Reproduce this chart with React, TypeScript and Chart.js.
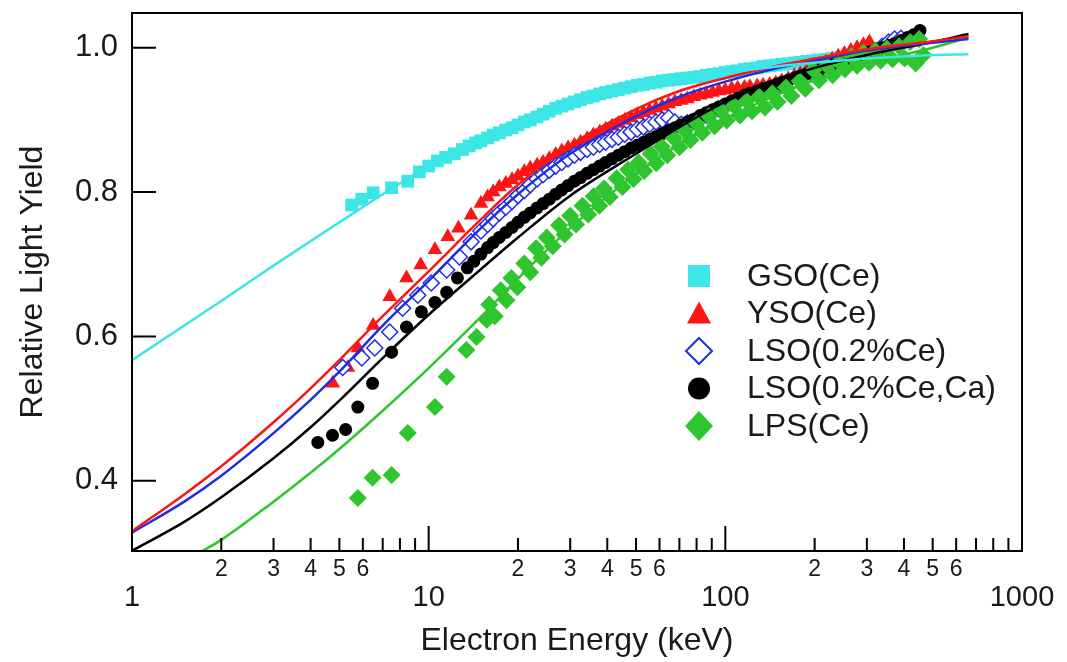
import React, { useEffect, useRef } from 'react';
import { Chart, registerables } from 'chart.js';

Chart.register(...registerables);

// ---------- data ----------
const gsoE = [5.5, 5.95, 6.5, 7.5, 8.5, 9.3, 10, 10.7, 11.4, 12.2, 13, 13.7, 14.4, 15, 15.8, 16.5, 17.3, 18.2, 19.1, 20, 21, 22, 23.2, 24.3, 25.5, 26.8, 28.1, 29.5, 31, 32.5, 34.2, 35.9, 37.7, 39.5, 41.5, 43.6, 45.8, 48.1, 50.5, 53, 55.6, 58.4, 61.3, 64.4, 67.6, 71, 74.5, 78.3, 82.2, 86.3, 90.6, 95.1, 99.9, 105, 110, 116, 121, 128, 134, 141, 148, 155, 163, 171, 179, 188, 198, 207, 218, 229, 240, 252, 265, 278, 292, 306];
const gsoY = [0.782, 0.79, 0.799, 0.806, 0.815, 0.828, 0.836, 0.843, 0.848, 0.853, 0.859, 0.864, 0.868, 0.871, 0.875, 0.879, 0.882, 0.886, 0.889, 0.893, 0.897, 0.9, 0.904, 0.908, 0.912, 0.916, 0.919, 0.922, 0.925, 0.928, 0.931, 0.933, 0.936, 0.938, 0.94, 0.942, 0.944, 0.946, 0.948, 0.949, 0.951, 0.952, 0.954, 0.955, 0.956, 0.957, 0.958, 0.959, 0.96, 0.962, 0.963, 0.964, 0.966, 0.967, 0.968, 0.97, 0.971, 0.972, 0.974, 0.975, 0.976, 0.977, 0.978, 0.979, 0.98, 0.981, 0.982, 0.983, 0.984, 0.985, 0.986, 0.987, 0.988, 0.989, 0.99, 0.99];

const ysoE = [4.75, 5.34, 5.77, 6.5, 7.39, 8.42, 9.4, 10.5, 11.6, 12.6, 13.9, 15, 15.8, 16.5, 17.3, 18.2, 19.1, 20, 21, 22, 23.2, 24.3, 25.5, 26.8, 28.1, 29.5, 31, 32.5, 34.2, 35.9, 37.7, 39.5, 41.5, 43.6, 45.8, 48.1, 50.5, 53, 55.6, 58.4, 61.3, 64.4, 67.6, 71, 74.5, 78.3, 82.2, 86.3, 90.6, 95.1, 99.9, 105, 110, 116, 121, 128, 134, 141, 148, 155, 163, 171, 179, 188, 198, 207, 218, 229, 240, 252, 265, 278, 292, 306];
const ysoY = [0.535, 0.557, 0.584, 0.615, 0.655, 0.681, 0.699, 0.72, 0.738, 0.75, 0.768, 0.784, 0.793, 0.8, 0.807, 0.812, 0.817, 0.822, 0.828, 0.833, 0.837, 0.841, 0.846, 0.852, 0.857, 0.861, 0.865, 0.869, 0.874, 0.879, 0.883, 0.887, 0.891, 0.895, 0.899, 0.903, 0.907, 0.91, 0.913, 0.916, 0.919, 0.922, 0.925, 0.927, 0.929, 0.932, 0.934, 0.936, 0.938, 0.94, 0.941, 0.943, 0.944, 0.945, 0.946, 0.947, 0.948, 0.949, 0.951, 0.954, 0.957, 0.961, 0.964, 0.968, 0.972, 0.976, 0.98, 0.984, 0.988, 0.992, 0.996, 1.0, 1.004, 1.008];

const lsoE = [5.13, 5.95, 6.58, 7.39, 8.17, 9.19, 10.2, 11.5, 12.7, 13.9, 15, 15.8, 16.5, 17.3, 18.2, 19.1, 20, 21, 22, 23.2, 24.3, 25.5, 26.8, 28.1, 29.5, 31, 32.5, 34.2, 35.9, 37.7, 39.5, 41.5, 43.6, 45.8, 48.1, 50.5, 53, 55.6, 58.4, 61.3, 64.4, 67.6, 71, 74.5, 78.3, 82.2, 86.3, 90.6, 95.1, 99.9, 105, 110, 116, 121, 128, 134, 141, 148, 155, 163, 171, 179, 188, 198, 207, 218, 229, 240, 252, 265, 278, 292, 306, 322, 338, 355, 372, 391];
const lsoY = [0.557, 0.57, 0.584, 0.606, 0.639, 0.657, 0.674, 0.692, 0.71, 0.731, 0.746, 0.755, 0.763, 0.771, 0.779, 0.787, 0.795, 0.802, 0.81, 0.818, 0.824, 0.83, 0.836, 0.841, 0.846, 0.851, 0.855, 0.859, 0.862, 0.866, 0.869, 0.873, 0.876, 0.88, 0.883, 0.887, 0.89, 0.894, 0.897, 0.9, 0.903, 0.897, 0.894, 0.896, 0.898, 0.903, 0.907, 0.911, 0.915, 0.919, 0.923, 0.927, 0.931, 0.934, 0.937, 0.94, 0.943, 0.946, 0.949, 0.952, 0.955, 0.958, 0.961, 0.964, 0.967, 0.97, 0.973, 0.976, 0.979, 0.982, 0.985, 0.988, 0.991, 0.996, 1.002, 1.008, 1.012, 1.013];

const caE = [4.23, 4.74, 5.25, 5.77, 6.47, 7.5, 8.42, 9.45, 10.5, 11.5, 12.5, 13.5, 14.2, 15, 15.8, 16.5, 17.3, 18.2, 19.1, 20, 21, 22, 23.2, 24.3, 25.5, 26.8, 28.1, 29.5, 31, 32.5, 34.2, 35.9, 37.7, 39.5, 41.5, 43.6, 45.8, 48.1, 50.5, 53, 55.6, 58.4, 61.3, 64.4, 67.6, 71, 74.5, 78.3, 82.2, 86.3, 90.6, 95.1, 99.9, 105, 110, 116, 121, 128, 134, 141, 148, 155, 163, 171, 179, 188, 198, 207, 218, 229, 240, 252, 265, 278, 292, 306, 322, 338, 355, 372, 391, 411, 431, 453];
const caY = [0.453, 0.463, 0.471, 0.502, 0.535, 0.578, 0.613, 0.634, 0.647, 0.661, 0.681, 0.695, 0.704, 0.714, 0.723, 0.73, 0.737, 0.744, 0.751, 0.758, 0.765, 0.771, 0.778, 0.784, 0.79, 0.797, 0.803, 0.809, 0.815, 0.82, 0.826, 0.831, 0.836, 0.841, 0.846, 0.851, 0.856, 0.861, 0.865, 0.869, 0.873, 0.877, 0.881, 0.885, 0.889, 0.893, 0.897, 0.901, 0.906, 0.91, 0.914, 0.918, 0.922, 0.926, 0.93, 0.934, 0.937, 0.94, 0.943, 0.946, 0.949, 0.952, 0.955, 0.958, 0.961, 0.964, 0.967, 0.97, 0.973, 0.976, 0.979, 0.982, 0.985, 0.988, 0.991, 0.994, 0.997, 1.0, 1.003, 1.006, 1.01, 1.014, 1.018, 1.024];

const lpsE = [5.77, 6.47, 7.5, 8.5, 10.5, 11.5, 13.4, 14.5, 15.7, 16, 16.7, 17.5, 18.3, 19, 19.9, 21, 22, 23, 24, 25, 26.2, 27.5, 28.7, 30, 31.4, 33, 34.5, 36, 37.6, 39, 40.8, 43, 45, 47, 49, 51, 53.3, 56, 58.5, 61, 63.7, 67, 70, 73, 76.3, 80, 83.6, 88, 92, 97, 101, 107, 112, 118, 123, 130, 136, 144, 150, 160, 167, 178, 186, 198, 207, 220, 230, 242, 253, 266, 278, 292, 305, 320, 334, 350, 366, 385, 402, 420, 438, 450, 465];
const lpsY = [0.376, 0.404, 0.408, 0.466, 0.502, 0.544, 0.581, 0.599, 0.623, 0.644, 0.628, 0.664, 0.65, 0.681, 0.668, 0.701, 0.689, 0.722, 0.709, 0.737, 0.725, 0.754, 0.741, 0.767, 0.755, 0.781, 0.769, 0.794, 0.781, 0.805, 0.793, 0.819, 0.807, 0.831, 0.818, 0.841, 0.829, 0.853, 0.84, 0.863, 0.851, 0.875, 0.862, 0.885, 0.872, 0.895, 0.882, 0.905, 0.891, 0.913, 0.899, 0.92, 0.906, 0.926, 0.912, 0.932, 0.917, 0.937, 0.925, 0.945, 0.933, 0.954, 0.943, 0.969, 0.955, 0.975, 0.962, 0.98, 0.97, 0.988, 0.975, 0.993, 0.979, 0.996, 0.982, 0.999, 0.984, 1.002, 0.985, 1.008, 0.978, 1.012, 0.99];

const fitE = [1, 1.5, 2, 3, 4, 5, 7, 10, 15, 20, 30, 50, 70, 100, 150, 200, 300, 500, 660];
const gsoFit = [0.567, 0.615, 0.649, 0.698, 0.732, 0.758, 0.797, 0.836, 0.873, 0.895, 0.92, 0.943, 0.955, 0.965, 0.974, 0.979, 0.985, 0.99, 0.991];
const ysoFit = [0.33, 0.381, 0.42, 0.481, 0.528, 0.567, 0.628, 0.69, 0.762, 0.81, 0.865, 0.915, 0.94, 0.958, 0.975, 0.985, 0.998, 1.009, 1.016];
const lsoFit = [0.328, 0.371, 0.407, 0.466, 0.512, 0.551, 0.615, 0.677, 0.75, 0.797, 0.853, 0.905, 0.932, 0.953, 0.972, 0.982, 0.996, 1.007, 1.012];
const caFit = [0.303, 0.343, 0.377, 0.431, 0.474, 0.511, 0.57, 0.63, 0.693, 0.737, 0.795, 0.853, 0.89, 0.925, 0.955, 0.972, 0.99, 1.008, 1.019];
const lpsFitE = [1.72, 2, 3, 4, 5, 7, 10, 15, 20, 30, 50, 70, 100, 150, 200, 300, 500, 660];
const lpsFit = [0.302, 0.318, 0.371, 0.411, 0.444, 0.497, 0.556, 0.627, 0.68, 0.75, 0.825, 0.866, 0.902, 0.935, 0.955, 0.978, 1.0, 1.014];

const seriesNames = ['GSO(Ce)', 'YSO(Ce)', 'LSO(0.2%Ce)', 'LSO(0.2%Ce,Ca)', 'LPS(Ce)'];
const seriesColors = ['#3DE6E6', '#FF1414', '#1E2EE0', '#000000', '#2EC52E'];

const xMinorLabelVals = [2, 3, 4, 5, 6, 20, 30, 40, 50, 60, 200, 300, 400, 500, 600];
const xMinorLabels = ['2', '3', '4', '5', '6', '2', '3', '4', '5', '6', '2', '3', '4', '5', '6'];
const xMinorMarkVals = [2, 3, 4, 5, 6, 7, 8, 9, 20, 30, 40, 50, 60, 70, 80, 90, 200, 300, 400, 500, 600, 700, 800, 900];
const xMajorVals = [1, 10, 100, 1000];
const xMajorLabels = ['1', '10', '100', '1000'];
const yTickVals = [0.4, 0.6, 0.8, 1.0];
const yTickLabels = ['0.4', '0.6', '0.8', '1.0'];

const FONT = '"Liberation Sans", Arial, Helvetica, sans-serif';
const TEXT = '#1a1a1a';

const zip = (xs: number[], ys: number[]) =>
  xs.slice(0, Math.min(xs.length, ys.length)).map((x, i) => ({ x, y: ys[i] }));

const framePlugin = {
  id: 'frameTicksLegend',
  afterDraw(chart: any) {
    const { ctx, chartArea: a, scales } = chart;
    const xs = scales.x;
    const ys = scales.y;
    ctx.save();
    ctx.strokeStyle = '#000';
    ctx.lineWidth = 2;
    ctx.strokeRect(a.left, a.top, a.right - a.left, a.bottom - a.top);
    ctx.beginPath();
    for (const v of xMinorMarkVals) {
      const px = xs.getPixelForValue(v);
      ctx.moveTo(px, a.bottom);
      ctx.lineTo(px, a.bottom - 13);
    }
    for (const v of xMajorVals) {
      const px = xs.getPixelForValue(v);
      ctx.moveTo(px, a.bottom);
      ctx.lineTo(px, a.bottom - 25);
    }
    for (const v of yTickVals) {
      const py = ys.getPixelForValue(v);
      ctx.moveTo(a.left, py);
      ctx.lineTo(a.left + 24, py);
    }
    ctx.stroke();

    // legend
    const mx = 699;
    const tx = 747;
    const rows = [276, 313.5, 351, 388.5, 426];
    rows.forEach((cy, i) => {
      ctx.beginPath();
      ctx.fillStyle = seriesColors[i];
      ctx.strokeStyle = seriesColors[i];
      if (i === 0) {
        ctx.fillRect(mx - 11, cy - 11, 22, 22);
      } else if (i === 1) {
        ctx.moveTo(mx, cy - 12);
        ctx.lineTo(mx + 12, cy + 10);
        ctx.lineTo(mx - 12, cy + 10);
        ctx.closePath();
        ctx.fill();
      } else if (i === 2) {
        ctx.lineWidth = 2;
        ctx.moveTo(mx, cy - 13);
        ctx.lineTo(mx + 13, cy);
        ctx.lineTo(mx, cy + 13);
        ctx.lineTo(mx - 13, cy);
        ctx.closePath();
        ctx.stroke();
      } else if (i === 3) {
        ctx.arc(mx, cy, 11, 0, Math.PI * 2);
        ctx.fill();
      } else {
        ctx.moveTo(mx, cy - 15);
        ctx.lineTo(mx + 14, cy);
        ctx.lineTo(mx, cy + 15);
        ctx.lineTo(mx - 14, cy);
        ctx.closePath();
        ctx.fill();
      }
      ctx.fillStyle = TEXT;
      ctx.font = `32px ${FONT}`;
      ctx.textBaseline = 'middle';
      ctx.textAlign = 'left';
      ctx.fillText(seriesNames[i], tx, cy + 1);
    });
    ctx.restore();
  },
};

export default function App() {
  const ref = useRef<HTMLCanvasElement | null>(null);

  useEffect(() => {
    if (!ref.current) return;
    document.body.style.margin = '0';

    const markerStyles = [
      { pointStyle: 'rect', pointRadius: 9, fill: seriesColors[0], border: seriesColors[0], bw: 0 },
      { pointStyle: 'triangle', pointRadius: 8.5, fill: seriesColors[1], border: seriesColors[1], bw: 0 },
      { pointStyle: 'rectRot', pointRadius: 8, fill: '#ffffff', border: seriesColors[2], bw: 1.5 },
      { pointStyle: 'circle', pointRadius: 6.5, fill: seriesColors[3], border: seriesColors[3], bw: 0 },
      { pointStyle: 'rectRot', pointRadius: 9, fill: seriesColors[4], border: seriesColors[4], bw: 0 },
    ];
    const markerData = [zip(gsoE, gsoY), zip(ysoE, ysoY), zip(lsoE, lsoY), zip(caE, caY), zip(lpsE, lpsY)];
    const fitData = [zip(fitE, gsoFit), zip(fitE, ysoFit), zip(fitE, lsoFit), zip(fitE, caFit), zip(lpsFitE, lpsFit)];

    const datasets: any[] = [];
    fitData.forEach((d, i) => {
      datasets.push({
        label: seriesNames[i] + ' fit',
        data: d,
        showLine: true,
        borderColor: seriesColors[i],
        borderWidth: 2.5,
        pointRadius: 0,
        cubicInterpolationMode: 'monotone',
        fill: false,
        order: 0,
      });
    });
    markerData.forEach((d, i) => {
      const m = markerStyles[i];
      datasets.push({
        label: seriesNames[i],
        data: d,
        showLine: false,
        pointStyle: m.pointStyle,
        pointRadius: m.pointRadius,
        backgroundColor: m.fill,
        borderColor: m.border,
        pointBorderWidth: m.bw,
        order: 1 + (4 - i),
      });
    });

    const chart = new Chart(ref.current, {
      type: 'scatter',
      data: { datasets },
      options: {
        responsive: false,
        animation: false,
        events: [],
        layout: { padding: { top: 13, right: 45, left: 0, bottom: 0 } },
        plugins: { legend: { display: false }, tooltip: { enabled: false } },
        scales: {
          x: {
            type: 'logarithmic',
            position: 'bottom',
            weight: 0,
            min: 1,
            max: 1000,
            grid: { display: false, drawTicks: false },
            border: { display: false },
            afterBuildTicks: (s: any) => {
              s.ticks = xMinorLabelVals.map((v) => ({ value: v }));
            },
            afterFit: (s: any) => {
              s.height = 30;
              s.paddingLeft = 0;
              s.paddingRight = 0;
            },
            ticks: {
              autoSkip: false,
              maxRotation: 0,
              padding: 5,
              color: TEXT,
              font: { family: FONT, size: 23 },
              callback: (_v: any, i: number) => xMinorLabels[i],
            },
          },
          x2: {
            type: 'logarithmic',
            position: 'bottom',
            weight: 1,
            min: 1,
            max: 1000,
            grid: { display: false, drawTicks: false },
            border: { display: false },
            afterBuildTicks: (s: any) => {
              s.ticks = xMajorVals.map((v) => ({ value: v }));
            },
            afterFit: (s: any) => {
              s.height = 81;
              s.paddingLeft = 0;
              s.paddingRight = 0;
            },
            ticks: {
              autoSkip: false,
              maxRotation: 0,
              padding: 0,
              color: TEXT,
              font: { family: FONT, size: 29 },
              callback: (_v: any, i: number) => xMajorLabels[i],
            },
            title: {
              display: true,
              text: 'Electron Energy (keV)',
              color: TEXT,
              font: { family: FONT, size: 32 },
              padding: { top: 0, bottom: 2 },
            },
          },
          y: {
            type: 'linear',
            position: 'left',
            min: 0.3026,
            max: 1.0481,
            grid: { display: false, drawTicks: false },
            border: { display: false },
            afterBuildTicks: (s: any) => {
              s.ticks = yTickVals.map((v) => ({ value: v }));
            },
            afterFit: (s: any) => {
              s.width = 132;
              s.paddingTop = 0;
              s.paddingBottom = 0;
            },
            ticks: {
              padding: 14,
              crossAlign: 'near',
              color: TEXT,
              font: { family: FONT, size: 31 },
              callback: (_v: any, i: number) => yTickLabels[i],
            },
            title: {
              display: true,
              text: 'Relative Light Yield',
              color: TEXT,
              font: { family: FONT, size: 32 },
              padding: { top: 14, bottom: 0 },
            },
          },
        },
      },
      plugins: [framePlugin],
    } as any);

    return () => chart.destroy();
  }, []);

  return (
    <div style={{ position: 'fixed', left: 0, top: 0, width: 1067, height: 662, background: '#fff' }}>
      <canvas ref={ref} width={1067} height={662} style={{ display: 'block' }} />
    </div>
  );
}
